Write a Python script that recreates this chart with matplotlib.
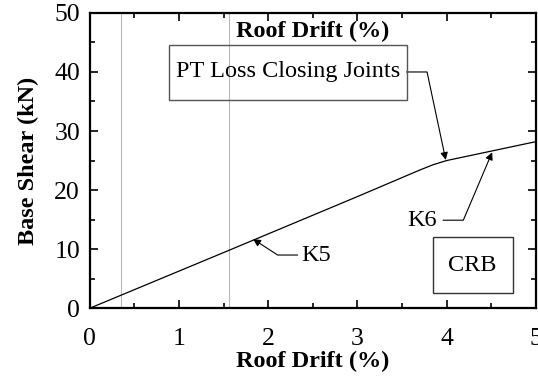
import matplotlib.pyplot as plt
from matplotlib.patches import Rectangle

plt.rcParams['font.family'] = ['Liberation Serif', 'DejaVu Serif']

# pushover curve
drift = [0.0, 1.56, 3.0, 3.7, 3.85, 4.0, 4.5, 5.0]
shear = [0.0, 9.8, 18.9, 23.4, 24.3, 25.0, 26.6, 28.2]
# light vertical reference lines
ref_drift = [0.35, 1.56]

xticks = [0, 1, 2, 3, 4, 5]
yticks = [0, 10, 20, 30, 40, 50]


def main():
    fig = plt.figure(figsize=(5.38, 3.8), dpi=100)
    ax = fig.add_axes([0.167, 0.189, 0.829, 0.777])
    ax.set_xlim(0, 5)
    ax.set_ylim(0, 50)

    for xv in ref_drift:
        ax.axvline(xv, color="#b8b8b8", lw=0.8, zorder=1)
    ax.plot(drift, shear, color="black", lw=0.9, zorder=3)

    # ticks
    ax.set_xticks(xticks)
    ax.set_yticks(yticks)
    ax.set_xticks([0.5, 1.5, 2.5, 3.5, 4.5], minor=True)
    ax.set_yticks([5, 15, 25, 35, 45], minor=True)
    ax.tick_params(which="both", direction="in", top=True, right=True,
                   labelsize=18.5, width=1.2)
    ax.tick_params(which="major", length=6)
    ax.tick_params(which="minor", length=3.5)
    ax.tick_params(axis="x", which="major", pad=14)
    ax.tick_params(axis="y", which="major", pad=7)
    for sp in ax.spines.values():
        sp.set_linewidth(1.6)

    ax.set_xlabel("Roof Drift (%)", fontsize=17.5, fontweight="bold", labelpad=1)
    ax.set_ylabel("Base Shear (kN)", fontsize=17.5, fontweight="bold", labelpad=11)
    ax.text(2.5, 46.8, "Roof Drift (%)", fontsize=17.5, fontweight="bold",
            ha="center", va="center")

    # PT loss box and arrow
    ax.add_patch(Rectangle((0.886, 35.25), 2.664, 9.35, fill=False,
                           edgecolor="#555555", lw=1.0, zorder=4))
    ax.text(2.22, 40.0, "PT Loss Closing Joints", fontsize=17.5,
            ha="center", va="center")
    arrow = dict(arrowstyle="-|>", color="black", lw=0.8, mutation_scale=11,
                 shrinkA=0, shrinkB=0)
    ax.annotate("", xy=(3.99, 25.1), xytext=(3.55, 40.0),
                arrowprops=dict(arrow, connectionstyle="angle,angleA=0,angleB=102,rad=0"))

    # K6
    ax.text(3.73, 14.9, "K6", fontsize=17.5, ha="center", va="center")
    ax.annotate("", xy=(4.51, 26.4), xytext=(3.96, 14.9),
                arrowprops=dict(arrow, connectionstyle="angle,angleA=0,angleB=67,rad=0"))

    # K5
    ax.text(2.54, 9.0, "K5", fontsize=17.5, ha="center", va="center")
    ax.annotate("", xy=(1.83, 11.7), xytext=(2.33, 9.0),
                arrowprops=dict(arrow, connectionstyle="angle,angleA=0,angleB=-33,rad=0"))

    # CRB label box
    ax.add_patch(Rectangle((3.845, 2.54), 0.897, 9.46, fill=False,
                           edgecolor="#333333", lw=1.0, zorder=4))
    ax.text(4.29, 7.3, "CRB", fontsize=17.5, ha="center", va="center")

    fig.savefig("out.png", dpi=100)


if __name__ == "__main__":
    main()
